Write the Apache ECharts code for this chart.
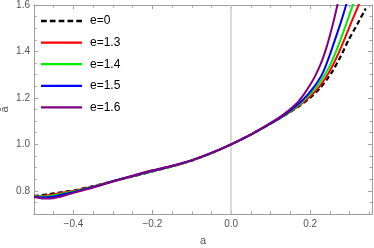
<!DOCTYPE html>
<html><head><meta charset="utf-8">
<script src="https://cdn.jsdelivr.net/npm/echarts@6/dist/echarts.min.js"></script>
<style>html,body{margin:0;padding:0;background:#fff}#c{width:374px;height:248px}</style>
</head><body><div id="c"></div>
<script>
const names = ['e=0','e=1.3','e=1.4','e=1.5','e=1.6'];
const colors = ['#000000','#ff0000','#00ee00','#0000ff','#800080'];
const xTickLabels = [-0.4,-0.2,0,0.2];
const yTickLabels = [0.8,1.0,1.2,1.4,1.6];

const aE0 = [-0.5,-0.48,-0.46,-0.44,-0.42,-0.4,-0.35,-0.3,-0.25,-0.2,-0.15,-0.1,-0.05,0,0.05,0.1,0.125,0.15,0.175,0.2,0.227,0.243,0.258,0.278,0.297,0.32,0.341];
const vE0 = [0.777,0.781,0.786,0.791,0.796,0.801,0.820,0.841,0.862,0.883,0.905,0.930,0.962,1.0,1.042,1.089,1.114,1.140,1.168,1.200,1.245,1.280,1.318,1.380,1.447,1.518,1.585];

const aE13 = [-0.5,-0.48,-0.46,-0.44,-0.42,-0.4,-0.35,-0.3,-0.25,-0.2,-0.15,-0.1,-0.05,0,0.05,0.1,0.125,0.15,0.175,0.2,0.222,0.237,0.249,0.259,0.273,0.286,0.305,0.324,0.33];
const vE13 = [0.776,0.778,0.782,0.788,0.794,0.799,0.819,0.841,0.862,0.884,0.905,0.930,0.962,1.0,1.042,1.089,1.114,1.141,1.171,1.206,1.245,1.280,1.314,1.345,1.396,1.448,1.527,1.604,1.63];

const aE14 = [-0.5,-0.48,-0.46,-0.44,-0.42,-0.4,-0.35,-0.3,-0.25,-0.2,-0.15,-0.1,-0.05,0,0.05,0.1,0.125,0.15,0.175,0.198,0.216,0.228,0.239,0.251,0.263,0.275,0.292,0.309,0.315];
const vE14 = [0.775,0.775,0.778,0.784,0.791,0.797,0.818,0.841,0.863,0.885,0.906,0.931,0.962,1.0,1.042,1.089,1.115,1.143,1.175,1.212,1.247,1.276,1.305,1.342,1.388,1.440,1.520,1.604,1.64];

const aE15 = [-0.5,-0.48,-0.46,-0.44,-0.42,-0.4,-0.35,-0.3,-0.25,-0.2,-0.15,-0.1,-0.05,0,0.05,0.1,0.125,0.15,0.176,0.194,0.21,0.22,0.229,0.238,0.25,0.263,0.278,0.292,0.298];
const vE15 = [0.774,0.771,0.773,0.779,0.787,0.794,0.816,0.841,0.864,0.886,0.907,0.931,0.963,1.0,1.042,1.090,1.116,1.146,1.182,1.214,1.247,1.272,1.297,1.330,1.385,1.450,1.525,1.604,1.645];

const aE16 = [-0.5,-0.48,-0.46,-0.44,-0.42,-0.4,-0.35,-0.3,-0.25,-0.2,-0.15,-0.1,-0.05,0,0.05,0.081,0.1,0.119,0.145,0.167,0.183,0.197,0.206,0.213,0.222,0.232,0.243,0.256,0.268,0.274];
const vE16 = [0.773,0.767,0.767,0.772,0.781,0.791,0.814,0.840,0.865,0.888,0.908,0.932,0.963,1.0,1.043,1.073,1.092,1.113,1.145,1.178,1.212,1.248,1.273,1.295,1.327,1.368,1.425,1.505,1.590,1.64];

const xs = [aE0,aE13,aE14,aE15,aE16];
const ys = [vE0,vE13,vE14,vE15,vE16];

const FONT = 'Liberation Sans';
const XMIN=-0.5, XMAX=0.357, YMIN=0.7, YMAX=1.6;
const frame = '#a0a0a0';
const xMajor = [-0.4,-0.2,0,0.2];
const yMajor = [0.8,1.0,1.2,1.4,1.6];

function xAx(pos, showLabel, ticks, len) {
  return {
    type:'value', position:pos, min:XMIN, max:XMAX, interval:0.05,
    axisLine:{show:true, onZero:false, lineStyle:{color:frame, width:1}},
    axisTick:{show:true, inside:true, length:len, customValues:ticks, lineStyle:{color:frame}},
    axisLabel:{show:showLabel, customValues:xTickLabels, color:'#555', fontFamily:FONT, fontSize:10, margin:5,
      formatter:v=>{const r=Math.round(v*10)/10; return r.toFixed(1).replace('-','\u2212');}},
    splitLine:{show:false},
    name: (pos==='bottom' && showLabel)?'a':'', nameLocation:'middle', nameGap:21, nameMoveOverlap:false,
    nameTextStyle:{color:'#555', fontFamily:FONT, fontSize:11}
  };
}
function yAx(pos, showLabel, ticks, len) {
  return {
    type:'value', position:pos, min:YMIN, max:YMAX, interval:0.05,
    axisLine:{show:true, onZero:false, lineStyle:{color:frame, width:1}},
    axisTick:{show:true, inside:true, length:len, customValues:ticks, lineStyle:{color:frame}},
    axisLabel:{show:showLabel, customValues:yTickLabels, color:'#555', fontFamily:FONT, fontSize:10, margin:4,
      formatter:v=>(Math.round(v*10)/10).toFixed(1)},
    splitLine:{show:false},
    name:(pos==='left' && showLabel)?'ā':'', nameLocation:'middle', nameGap:24, nameRotate:90, nameMoveOverlap:false,
    nameTextStyle:{color:'#555', fontFamily:FONT, fontSize:11}
  };
}
const xMinor=[], yMinor=[];
for (let i=0;i<=17;i++){ xMinor.push(Math.round((XMIN+0.05*i)*100)/100); }
for (let i=0;i<=18;i++){ yMinor.push(Math.round((YMIN+0.05*i)*100)/100); }

const dashIcon = 'path://M0,0h5.5v2h-5.5zM8.5,0h5.5v2h-5.5zM17,0h5.5v2h-5.5zM25.5,0h5.5v2h-5.5zM34,0h5.5v2h-5.5z';
const solidIcon = 'path://M0,0h41v2h-41z';

const series = names.map((n,i)=>({
  name:n, type:'line', xAxisIndex:0, yAxisIndex:0,
  data: xs[i].map((a,j)=>[a, ys[i][j]]),
  showSymbol:false, symbol:'none', smooth:0.2, clip:true,
  lineStyle:{color:colors[i], width: i===0?2.2:2, type: i===0?[5,3]:'solid'},
  itemStyle:{color:colors[i]},
  z: 3+i
}));
series[0].markLine = {silent:true, symbol:'none', label:{show:false},
  lineStyle:{color:'#cfcfcf', width:1.5, type:'solid'}, data:[{xAxis:0}], z:1};

const chart = echarts.init(document.getElementById('c'), null, {renderer:'canvas'});
chart.setOption({
  animation:false,
  backgroundColor:'#fff',
  grid:{left:34, right:2, top:5, bottom:34, containLabel:false, outerBoundsMode:'none'},
  xAxis:[xAx('bottom',true,xMinor,2.5), xAx('bottom',false,xMajor,4), xAx('top',false,xMinor,2.5), xAx('top',false,xMajor,4)],
  yAxis:[yAx('left',true,yMinor,2.5), yAx('left',false,yMajor,4), yAx('right',false,yMinor,2.5), yAx('right',false,yMajor,4)],
  legend:{show:true, orient:'vertical', left:41, top:14, padding:0, itemWidth:41, itemHeight:2.3, itemGap:7.6,
    symbolKeepAspect:false,
    textStyle:{color:'#000', fontFamily:FONT, fontSize:12, padding:[0,0,0,3], lineHeight:14},
    data:names.map((n,i)=>({name:n, icon: i===0?dashIcon:solidIcon, itemStyle:{color:colors[i]}})),
    selectedMode:false},
  series: series
});
</script></body></html>
